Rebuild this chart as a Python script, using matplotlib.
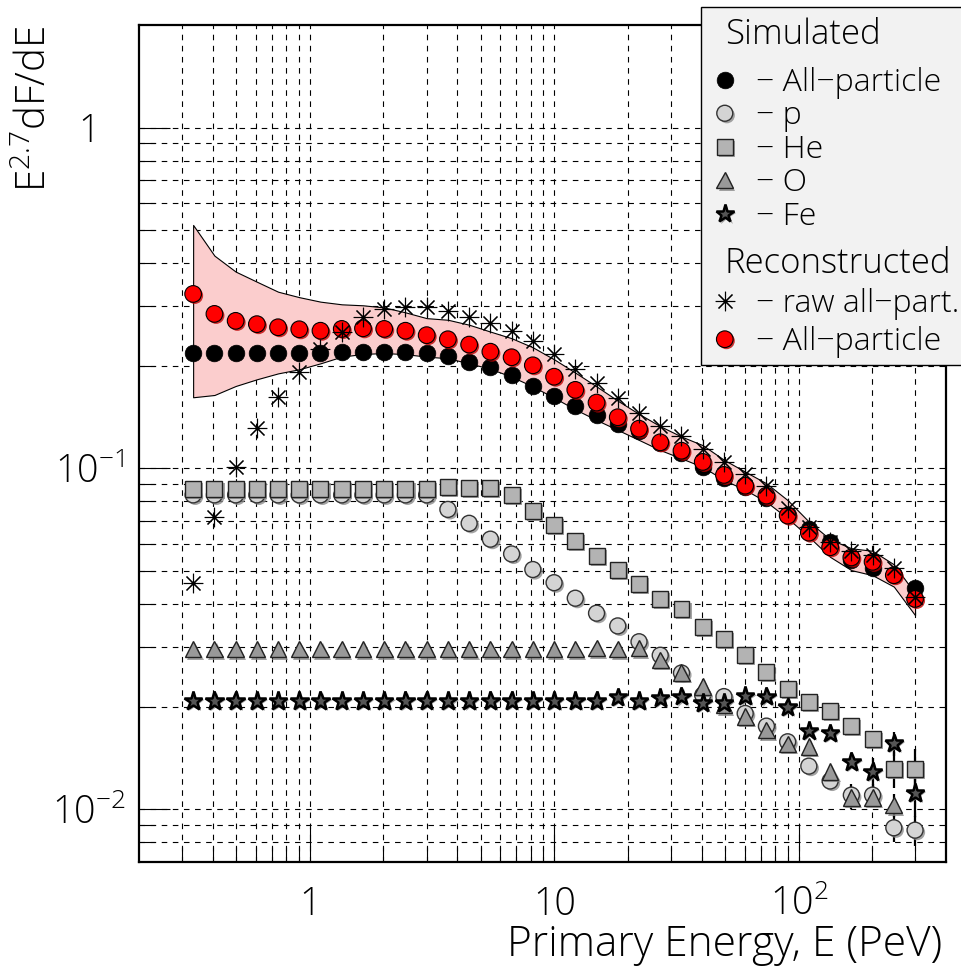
import numpy as np
import matplotlib
matplotlib.use("Agg")
import matplotlib.pyplot as plt
import matplotlib.patheffects as pe
from matplotlib.patches import Rectangle
from matplotlib.ticker import FixedLocator, NullFormatter

plt.rcParams['font.family'] = ['Open Sans', 'DejaVu Sans']
plt.rcParams['font.weight'] = 'light'
plt.rcParams['mathtext.fontset'] = 'custom'
plt.rcParams['mathtext.rm'] = 'Open Sans:light'
plt.rcParams['mathtext.it'] = 'Open Sans:light'
plt.rcParams['lines.scale_dashes'] = False

# bin centres (PeV)
energy = [0.333, 0.407, 0.497, 0.607, 0.741, 0.905, 1.105, 1.350, 1.649, 2.014,
          2.460, 3.004, 3.669, 4.482, 5.474, 6.686, 8.166, 9.974, 12.18, 14.88,
          18.17, 22.20, 27.11, 33.12, 40.45, 49.40, 60.34, 73.70, 90.02, 109.9,
          134.3, 164.0, 200.3, 244.7, 298.9]

# simulated spectra, E^2.7 dF/dE
sim_all = [0.218, 0.218, 0.218, 0.218, 0.218, 0.218, 0.218, 0.219, 0.219, 0.219,
           0.220, 0.218, 0.213, 0.205, 0.198, 0.188, 0.175, 0.163, 0.1525, 0.143,
           0.135, 0.129, 0.1185, 0.111, 0.1007, 0.0935, 0.088, 0.0817, 0.073, 0.0662,
           0.0607, 0.0538, 0.0509, 0.0486, 0.0445]
sim_p = [0.0836, 0.0836, 0.0836, 0.0836, 0.0836, 0.0836, 0.0836, 0.0836, 0.0836, 0.0836,
         0.0836, 0.0836, 0.0758, 0.069, 0.062, 0.0561, 0.0505, 0.0462, 0.0416, 0.0376,
         0.0345, 0.031, 0.0283, 0.0251, 0.0216, 0.0214, 0.0191, 0.01753, 0.01577, 0.01338,
         0.0121, 0.0110, 0.0110, 0.00882, 0.00868]
sim_he = [0.0872, 0.0872, 0.0872, 0.0872, 0.0872, 0.0872, 0.0872, 0.0872, 0.0872, 0.0872,
          0.0872, 0.0872, 0.088, 0.0874, 0.0874, 0.0835, 0.0751, 0.0682, 0.0612, 0.0554,
          0.0505, 0.0457, 0.0414, 0.0388, 0.0342, 0.0315, 0.0283, 0.0252, 0.0226, 0.0206,
          0.0194, 0.0176, 0.0161, 0.0131, 0.0131]
sim_o = [0.0295, 0.0295, 0.0295, 0.0295, 0.0295, 0.0295, 0.0295, 0.0295, 0.0295, 0.0295,
         0.0295, 0.0295, 0.0295, 0.0295, 0.0295, 0.0295, 0.0295, 0.0295, 0.0295, 0.0297,
         0.0295, 0.0297, 0.0274, 0.0252, 0.0229, 0.0202, 0.0187, 0.01706, 0.01555, 0.01525,
         0.01288, 0.0108, 0.0108, 0.01028, np.nan]
sim_fe = [0.0208, 0.0208, 0.0208, 0.0208, 0.0208, 0.0208, 0.0208, 0.0208, 0.0208, 0.0208,
          0.0208, 0.0208, 0.0208, 0.0208, 0.0208, 0.0208, 0.0208, 0.0208, 0.0208, 0.0208,
          0.0213, 0.0208, 0.0212, 0.0214, 0.0205, 0.0205, 0.0215, 0.0214, 0.0199, 0.0170,
          0.0167, 0.01377, 0.01288, 0.0156, 0.01117]

# relative errors (only visible at the highest energies)
p_err = [0.0] * 31 + [0.08, 0.08, 0.09, 0.10]
he_err = [0.0] * 33 + [0.12, 0.15]
o_err = [0.0] * 31 + [0.07, 0.0, 0.08, 0.0]
fe_err = [0.0] * 32 + [0.10, 0.08, 0.15]

# reconstructed
raw_all = [0.0462, 0.0721, 0.101, 0.1317, 0.1624, 0.192, 0.224, 0.2514, 0.2776, 0.293,
           0.2984, 0.2984, 0.290, 0.279, 0.2666, 0.253, 0.237, 0.216, 0.196, 0.1777,
           0.1606, 0.1457, 0.1334, 0.1242, 0.1140, 0.1042, 0.0961, 0.0888, 0.0764, 0.0675,
           0.0609, 0.0573, 0.0557, 0.0511, 0.042]
rec_all = [0.325, 0.284, 0.271, 0.265, 0.2595, 0.256, 0.2535, 0.2566, 0.2577, 0.2566,
           0.2535, 0.246, 0.2393, 0.2308, 0.220, 0.2119, 0.2007, 0.1858, 0.170, 0.156,
           0.1413, 0.1308, 0.1193, 0.1127, 0.1045, 0.0957, 0.089, 0.0832, 0.0727, 0.0648,
           0.0587, 0.0548, 0.0532, 0.0486, 0.0414]
band_hi = [0.518, 0.421, 0.378, 0.353, 0.330, 0.318, 0.3085, 0.303, 0.301, 0.2967,
           0.287, 0.276, 0.273, 0.264, 0.252, 0.241, 0.2266, 0.209, 0.191, 0.174,
           0.158, 0.1445, 0.133, 0.124, 0.117, 0.106, 0.0978, 0.0904, 0.0807, 0.0698,
           0.0619, 0.0583, 0.0573, 0.0523, 0.043]
band_lo = [0.1617, 0.1642, 0.1745, 0.1826, 0.190, 0.1954, 0.2034, 0.2128, 0.2167, 0.218,
           0.2164, 0.2128, 0.2105, 0.2034, 0.196, 0.1858, 0.174, 0.1612, 0.149, 0.1387,
           0.1297, 0.1212, 0.1132, 0.107, 0.101, 0.0925, 0.0865, 0.0798, 0.0714, 0.063,
           0.055, 0.0503, 0.0486, 0.045, 0.0371]

x = np.array(energy)

fig = plt.figure(figsize=(9.61, 9.69), dpi=100)
ax = fig.add_axes([139 / 961, 1 - 862 / 969, (946 - 139) / 961, (862 - 25) / 969])
ax.set_xscale('log')
ax.set_yscale('log')
ax.set_xlim(0.2, 400)
ax.set_ylim(0.007, 2.0)

shadow = [pe.SimplePatchShadow(offset=(1.5, -1.5), shadow_rgbFace='0.55', alpha=0.8), pe.Normal()]
red_shadow = [pe.SimplePatchShadow(offset=(1.2, -1.2), shadow_rgbFace='#c00000', alpha=0.8), pe.Normal()]

# uncertainty band of the reconstructed spectrum
ax.fill_between(x, band_lo, band_hi, facecolor='#fbcdcd', edgecolor='black', linewidth=0.8, zorder=2)

# error bars
for vals, rel in [(sim_p, p_err), (sim_he, he_err), (sim_o, o_err), (sim_fe, fe_err)]:
    v = np.array(vals)
    ax.errorbar(x, v, yerr=v * np.array(rel), fmt='none', ecolor='black', elinewidth=1.6, zorder=3)

h_p, = ax.plot(x, sim_p, 'o', ms=11.5, mfc='#d4d4d4', mec='#333333', mew=1.0,
               path_effects=shadow, zorder=4)
h_he, = ax.plot(x, sim_he, 's', ms=11.5, mfc='#b3b3b3', mec='#222222', mew=1.0,
                path_effects=shadow, zorder=4)
h_o, = ax.plot(x, sim_o, '^', ms=12, mfc='#999999', mec='#222222', mew=1.0,
               path_effects=shadow, zorder=4)
h_fe, = ax.plot(x, sim_fe, '*', ms=14, mfc='#555555', mec='black', mew=1.8,
                path_effects=shadow, zorder=4)
h_all, = ax.plot(x, sim_all, 'o', ms=12, mfc='black', mec='black', mew=0.5, zorder=5)
h_rec, = ax.plot(x, rec_all, 'o', ms=12, mfc='#ff0000', mec='black', mew=0.8,
                 path_effects=red_shadow, zorder=6)
h_raw, = ax.plot(x, raw_all, ls='none', marker=(8, 2, 0), ms=14, mec='black', mew=0.8, zorder=7)

# grid
grid_style = dict(color='black', linestyle=(0, (4, 4)), linewidth=0.8)
ax.grid(True, which='both', **grid_style)
ax.set_axisbelow(True)

# ticks
ax.xaxis.set_major_locator(FixedLocator([1, 10, 100]))
ax.xaxis.set_minor_locator(FixedLocator([0.3, 0.4, 0.5, 0.6, 0.7, 0.8, 0.9, 2, 3, 4, 5, 6, 7, 8, 9,
                                         20, 30, 40, 50, 60, 70, 80, 90, 200, 300]))
ax.yaxis.set_major_locator(FixedLocator([0.01, 0.1, 1]))
ax.yaxis.set_minor_locator(FixedLocator([0.008, 0.009, 0.02, 0.03, 0.04, 0.05, 0.06, 0.07, 0.08, 0.09,
                                         0.2, 0.3, 0.4, 0.5, 0.6, 0.7, 0.8, 0.9]))
ax.xaxis.set_minor_formatter(NullFormatter())
ax.yaxis.set_minor_formatter(NullFormatter())
ax.set_xticklabels(['1', '10', r'$\mathregular{10^{2}}$'])
ax.set_yticklabels([r'$\mathregular{10^{-2}}$', r'$\mathregular{10^{-1}}$', '1'])

ax.tick_params(which='both', direction='in', top=False, right=False, width=0.8, colors='black')
ax.tick_params(axis='x', which='major', length=25, labelsize=27, pad=38)
ax.tick_params(axis='x', which='minor', length=11)
ax.tick_params(axis='y', which='major', length=22, labelsize=27, pad=36)
ax.tick_params(axis='y', which='minor', length=11.5)
for lab in ax.get_xticklabels():
    lab.set_verticalalignment('baseline')
for lab in ax.get_yticklabels():
    lab.set_horizontalalignment('center')

for s in ax.spines.values():
    s.set_linewidth(1.6)

# axis titles
fig.text(942 / 961, 1 - 945 / 969, 'Primary Energy, E (PeV)', ha='right', va='center', fontsize=30.5)
fig.text(36 / 961, 1 - 26 / 969, r'E$^{\mathregular{2.7}}$dF/dE', rotation=90, ha='center', va='top',
         fontsize=29)

# legend box
fig.patches.append(Rectangle((701 / 961, 1 - 365 / 969), 0.3, (365 - 7) / 969,
                             transform=fig.transFigure, facecolor='#f2f2f2', edgecolor='black',
                             linewidth=1.0, zorder=10))
fig.text(725 / 961, 1 - 35 / 969, 'Simulated', ha='left', va='center', fontsize=25, zorder=11)
fig.text(725 / 961, 1 - 264 / 969, 'Reconstructed', ha='left', va='center', fontsize=25, zorder=11)

leg_kw = dict(loc='upper left', frameon=False, fontsize=23, handlelength=0.55, handletextpad=0.7,
              borderpad=0, borderaxespad=0, numpoints=1)
leg1 = fig.legend([h_all, h_p, h_he, h_o, h_fe],
                  ['\u2212 All\u2212particle', '\u2212 p', '\u2212 He', '\u2212 O', '\u2212 Fe'],
                  bbox_to_anchor=(716 / 961, 1 - 67 / 969), labelspacing=0.045, **leg_kw)
leg2 = fig.legend([h_raw, h_rec],
                  ['\u2212 raw all\u2212part.', '\u2212 All\u2212particle'],
                  bbox_to_anchor=(716 / 961, 1 - 288 / 969), labelspacing=0.2, **leg_kw)
leg1.set_zorder(12)
leg2.set_zorder(12)

fig.savefig('out.png', dpi=100)
